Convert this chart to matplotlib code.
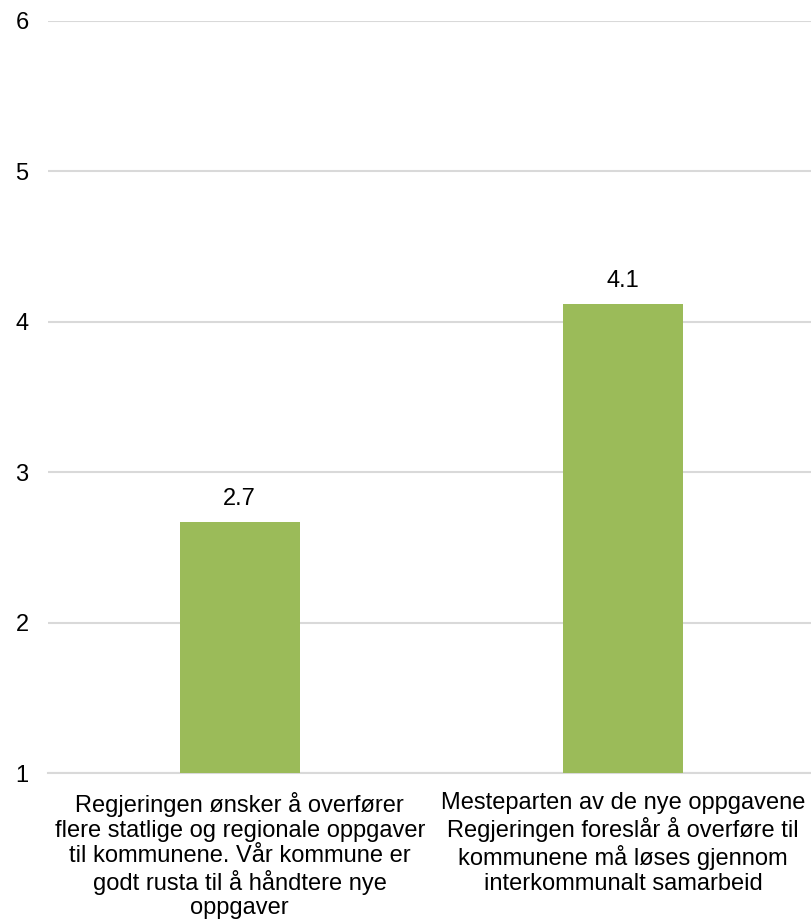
import matplotlib.pyplot as plt

plt.rcParams['font.family'] = ['Liberation Sans', 'DejaVu Sans']

categories = [
    'Regjeringen ønsker å overfører\nflere statlige og regionale oppgaver\ntil kommunene. Vår kommune er\ngodt rusta til å håndtere nye\noppgaver',
    'Mesteparten av de nye oppgavene\nRegjeringen foreslår å overføre til\nkommunene må løses gjennom\ninterkommunalt samarbeid',
]
values = [2.67, 4.12]
labels = ['2.7', '4.1']
yticks = [1, 2, 3, 4, 5, 6]

fig = plt.figure(figsize=(8.11, 9.23), dpi=100)
ax = fig.add_axes([48 / 811, 0.1625, 767 / 811, 0.8148])

x = range(len(categories))
bars = ax.bar(x, [v - 1 for v in values], bottom=1, width=0.313, color='#9BBB59', zorder=3)
for b, lab in zip(bars, labels):
    ax.text(b.get_x() + b.get_width() / 2, b.get_y() + b.get_height() + 0.08, lab,
            ha='center', va='bottom', fontsize=17)

ax.set_ylim(1, 6)
ax.set_xlim(-0.5, 1.5)
ax.set_yticks(yticks)
ax.set_xticks(list(x))
ax.set_xticklabels(categories, fontsize=17, linespacing=1.15)
ax.tick_params(axis='y', length=0, pad=14, labelsize=17)
ax.tick_params(axis='x', length=0, pad=14)
ax.grid(axis='y', color='#d9d9d9', linewidth=1.5, zorder=0)
for s in ['top', 'right', 'left']:
    ax.spines[s].set_visible(False)
ax.spines['bottom'].set_color('#d9d9d9')
ax.spines['bottom'].set_linewidth(1.5)

fig.savefig('out.png', dpi=100)
